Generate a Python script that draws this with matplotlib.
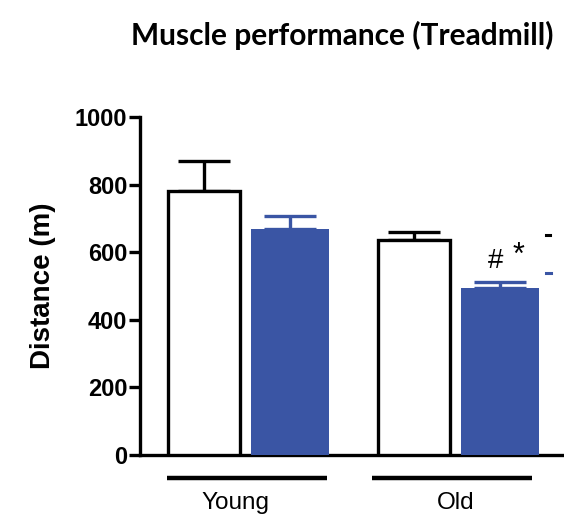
import matplotlib
matplotlib.use("Agg")
import matplotlib.pyplot as plt
from matplotlib.lines import Line2D

# Treadmill running distance per age group
groups = ["Young", "Old"]
control_mean = [781, 636]
control_sem = [89, 24]
treated_mean = [669, 494]
treated_sem = [38, 18]
yticks = [0, 200, 400, 600, 800, 1000]

BLUE = "#3A55A4"
plt.rcParams["font.family"] = ["Liberation Sans", "DejaVu Sans"]

fig = plt.figure(figsize=(5.64, 5.19), dpi=100)
ax = fig.add_axes([140 / 564, 64 / 519, 424 / 564, 338 / 519])

xs = [0, 1]
off = 0.205
w_ctrl = 0.34
w_trt = 0.37

for i, x in enumerate(xs):
    ax.bar(x - off, control_mean[i], width=w_ctrl, color="white",
           edgecolor="black", linewidth=2.4, zorder=3)
    ax.errorbar(x - off, control_mean[i], yerr=[[0], [control_sem[i]]],
                fmt="none", ecolor="black", elinewidth=2.4, capsize=18.5,
                capthick=2.4, zorder=2)
    ax.bar(x + off, treated_mean[i], width=w_trt, color=BLUE,
           edgecolor="none", zorder=3)
    ax.errorbar(x + off, treated_mean[i], yerr=[[0], [treated_sem[i]]],
                fmt="none", ecolor=BLUE, elinewidth=2.4, capsize=18.5,
                capthick=2.4, zorder=2)

ax.set_xlim(-0.51, 1.51)
ax.set_ylim(0, 1000)
ax.set_yticks(yticks)
ax.set_yticklabels([str(v) for v in yticks], fontweight="bold", fontsize=17)
ax.set_xticks([])
for s in ["top", "right"]:
    ax.spines[s].set_visible(False)
for s in ["left", "bottom"]:
    ax.spines[s].set_linewidth(2.4)
ax.tick_params(axis="y", length=8, width=2.4, pad=1)

ax.set_ylabel("Distance (m)", fontweight="bold", fontsize=20, labelpad=14)

# group underlines and labels
spans = [(-0.38, 0.38), (0.595, 1.357)]
label_x = [-0.057, 0.995]
for (a, b), lx, name in zip(spans, label_x, groups):
    ax.add_line(Line2D([a, b], [-68, -68], color="black", linewidth=3.2,
                       clip_on=False, solid_capstyle="butt"))
    ax.text(lx, -142, name, ha="center", va="center", fontsize=17.5)

# significance marks over the old treated bar
ax.text(1.183, 575, "#", ha="center", va="center", fontsize=20)
ax.text(1.295, 590, "*", ha="center", va="center", fontsize=22)

# legend keys at the right edge
fig.add_artist(Line2D([546 / 564, 550 / 564], [1 - 235 / 519] * 2,
                      color="black", linewidth=2.2))
fig.add_artist(Line2D([546 / 564, 551 / 564], [1 - 273 / 519] * 2,
                      color=BLUE, linewidth=2.2))

fig.text(342 / 564, 1 - 35 / 519, "Muscle performance (Treadmill)",
         ha="center", va="center", fontfamily="Lato", fontweight="bold",
         fontsize=21.5)

fig.savefig("out.png", dpi=100)
